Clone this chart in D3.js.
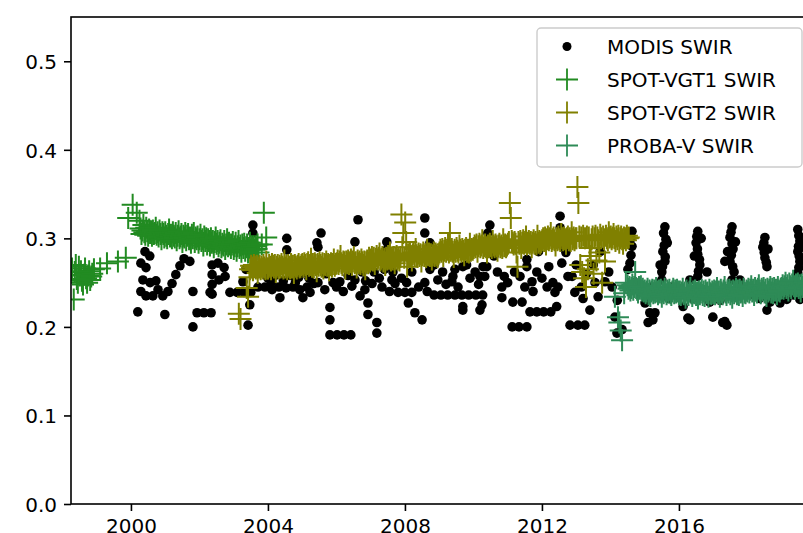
<!DOCTYPE html>
<html><head><meta charset="utf-8">
<script src="https://cdn.jsdelivr.net/npm/d3@7"></script>
<style>html,body{margin:0;padding:0;background:#fff;overflow:hidden}svg{display:block;font-family:"DejaVu Sans",sans-serif}</style>
</head><body><svg id="chart" width="803" height="533"></svg>
<script>
// ---------- data ----------
const xTicks = [2000, 2004, 2008, 2012, 2016];
const yTicks = [0, 0.1, 0.2, 0.3, 0.4, 0.5];
const seriesNames = ["MODIS SWIR", "SPOT-VGT1 SWIR", "SPOT-VGT2 SWIR", "PROBA-V SWIR"];
const seriesColors = ["#000000", "#228B22", "#808000", "#2E8B57"];

const modisPoints = [
[2000.20,0.217],[2000.29,0.272],[2000.41,0.285],[2000.55,0.280],[2000.44,0.267],[2000.35,0.253],[2000.29,0.240],[2000.44,0.235],[2000.64,0.235],[2000.79,0.242],[2000.73,0.252],[2000.56,0.250],[2000.99,0.214],
[2001.55,0.277],[2001.43,0.269],[2001.31,0.259],[2001.20,0.249],[2001.08,0.240],[2000.93,0.235],[2001.72,0.274],[2001.81,0.240],[2001.81,0.200],
[2001.93,0.216],[2002.13,0.216],[2002.34,0.216],
[2002.37,0.270],[2002.37,0.259],[2002.37,0.248],[2002.37,0.237],[2002.54,0.272],[2002.72,0.267],[2002.75,0.257],[2002.57,0.253],[2002.31,0.239],
[2002.89,0.239],[2003.10,0.239],[2003.30,0.239],[2003.50,0.239],
[2003.56,0.315],[2003.56,0.306],[2003.47,0.225],[2003.42,0.202],[2003.36,0.265],[2003.27,0.251],
[2004.55,0.300],[2004.55,0.287],[2004.35,0.233],
[2003.71,0.245],[2003.91,0.245],[2004.12,0.242],[2004.32,0.245],[2004.53,0.244],[2004.73,0.245],[2004.93,0.242],[2005.14,0.245],[2005.34,0.249],
[2005.31,0.265],[2005.55,0.306],[2005.43,0.295],[2005.46,0.290],[2003.80,0.262],[2004.20,0.258],[2004.90,0.256],[2005.02,0.233],[2005.23,0.239],
[2004.00,0.255],[2004.10,0.250],[2004.45,0.252],[2004.65,0.258],[2004.80,0.250],[2005.05,0.262],[2005.20,0.255],
[2005.46,0.250],[2005.66,0.242],[2005.81,0.222],[2005.81,0.208],
[2005.81,0.191],[2006.02,0.191],[2006.22,0.191],[2006.42,0.191],
[2005.70,0.260],[2005.90,0.250],[2006.00,0.245],[2006.20,0.240],[2006.45,0.246],
[2006.54,0.296],[2006.63,0.321],[2006.54,0.253],[2006.83,0.242],[2006.92,0.227],[2006.92,0.214],[2007.18,0.205],[2007.18,0.193],
[2006.75,0.262],[2006.85,0.252],[2007.10,0.262],[2007.25,0.255],[2007.40,0.265],[2007.55,0.240],[2007.65,0.262],[2008.05,0.250],[2008.10,0.227],
[2007.33,0.245],[2007.47,0.296],[2007.47,0.287],[2007.62,0.253],
[2007.80,0.239],[2008.00,0.239],[2008.20,0.239],[2008.29,0.216],[2008.50,0.208],
[2008.58,0.323],[2008.58,0.306],[2008.73,0.295],[2008.58,0.250],[2008.73,0.265],[2008.96,0.253],
[2006.10,0.251],[2006.34,0.258],[2006.69,0.235],[2007.04,0.249],[2007.71,0.249],[2007.90,0.255],[2008.20,0.262],
[2008.40,0.245],[2008.65,0.240],[2008.85,0.270],[2009.10,0.262],[2009.20,0.248],[2009.55,0.245],[2009.90,0.255],[2010.05,0.262],[2010.15,0.248],
[2008.85,0.236],[2009.05,0.236],[2009.25,0.236],[2009.46,0.236],[2009.66,0.236],[2009.86,0.236],[2010.07,0.236],[2010.27,0.236],
[2009.46,0.265],[2009.40,0.257],[2009.37,0.251],[2009.69,0.223],[2009.69,0.219],[2009.69,0.268],
[2010.25,0.225],[2010.19,0.219],[2010.28,0.268],[2010.19,0.257],[2010.33,0.257],[2010.39,0.268],[2010.48,0.315],[2010.42,0.306],
[2010.55,0.295],[2010.70,0.262],[2010.90,0.257],[2011.00,0.250],[2011.20,0.262],[2011.50,0.245],[2011.85,0.262],[2012.00,0.255],[2012.15,0.245],[2012.20,0.268],
[2010.83,0.245],[2010.83,0.233],[2011.15,0.228],[2011.42,0.228],
[2011.13,0.200],[2011.33,0.200],[2011.56,0.200],
[2011.36,0.257],[2011.56,0.276],[2011.56,0.268],[2011.71,0.251],[2011.74,0.240],
[2011.65,0.217],[2011.85,0.217],[2012.05,0.217],[2012.26,0.217],[2012.43,0.223],
[2012.32,0.250],[2012.47,0.245],[2012.38,0.239],[2012.58,0.272],[2012.76,0.257],[2012.53,0.325],[2012.53,0.312],
[2009.80,0.270],[2010.60,0.280],[2011.90,0.285],
[2012.70,0.284],[2012.88,0.257],[2012.96,0.239],[2012.82,0.202],[2013.05,0.202],[2013.25,0.202],
[2012.62,0.290],[2012.65,0.302],[2013.00,0.270],[2013.15,0.245],[2013.20,0.232],[2013.55,0.250],[2013.95,0.262],[2014.05,0.245],[2014.20,0.230],
[2013.40,0.219],[2013.64,0.234],[2013.84,0.251],[2013.30,0.260],[2013.50,0.270],[2013.70,0.285],
[2014.13,0.211],[2014.34,0.197],[2014.19,0.193],
[2014.63,0.308],[2014.60,0.300],[2014.63,0.291],[2014.60,0.281],[2014.57,0.272],[2014.51,0.265],[2014.72,0.250],
[2015.01,0.227],[2015.30,0.216],[2015.10,0.205],[2015.15,0.216],[2015.24,0.208],
[2015.59,0.313],[2015.55,0.306],[2015.62,0.299],[2015.57,0.292],[2015.53,0.285],[2015.60,0.279],[2015.59,0.274],[2015.52,0.268],[2015.50,0.262],[2015.50,0.253],[2015.66,0.295],[2015.45,0.270],
[2016.32,0.208],[2016.26,0.210],
[2016.55,0.308],[2016.52,0.302],[2016.50,0.295],[2016.54,0.288],[2016.55,0.282],[2016.60,0.276],[2016.61,0.270],[2016.57,0.263],[2016.55,0.257],[2016.82,0.262],[2016.32,0.253],[2016.65,0.300],[2016.45,0.280],
[2016.99,0.211],[2017.28,0.205],[2017.34,0.206],[2017.40,0.202],
[2017.55,0.313],[2017.52,0.307],[2017.49,0.301],[2017.55,0.294],[2017.58,0.288],[2017.53,0.281],[2017.49,0.274],[2017.34,0.274],[2017.57,0.268],[2017.61,0.262],[2017.55,0.253],[2017.78,0.253],[2017.65,0.296],[2017.42,0.285],
[2018.57,0.219],[2018.66,0.228],
[2018.51,0.301],[2018.48,0.295],[2018.45,0.290],[2018.49,0.284],[2018.51,0.278],[2018.55,0.273],[2018.57,0.268],[2018.66,0.242],[2018.60,0.288],
[2019.47,0.310],[2019.50,0.303],[2019.53,0.297],[2019.49,0.291],[2019.47,0.285],[2019.51,0.280],[2019.53,0.274],[2019.50,0.267],[2019.47,0.261],[2019.58,0.290],
[2019.15,0.231],[2019.53,0.231],[2018.95,0.227],[2016.12,0.223],
[2015.40,0.236],[2015.80,0.245],[2016.10,0.240],[2016.80,0.236],[2017.10,0.240],[2017.90,0.243],[2018.20,0.236],[2018.90,0.240],[2019.20,0.245],
[2014.85,0.240],[2015.20,0.245],[2015.70,0.232],[2016.40,0.232],[2016.90,0.228],[2017.20,0.230],[2017.70,0.235],[2018.05,0.240],[2018.35,0.232],[2018.80,0.232],[2019.05,0.238],[2019.35,0.236],[2019.70,0.250]
];

// SPOT-VGT1: sparse early samples, a dekadal (10-day) band, and late samples
const vgt1SparseTimes = [1998.28,1998.33,1998.36,1998.39,1998.42,1998.45,1998.48,1998.51,1998.54,1998.57,1998.60,1998.63,1998.66,1998.69,1998.72,1998.75,1998.78,1998.81,1998.84,1998.87,1998.92,1999.10,1999.30,1999.62,1999.85,1999.92,2000.05,2000.17,2000.25];
const vgt1SparseValues = [0.266,0.231,0.262,0.270,0.254,0.250,0.268,0.258,0.263,0.252,0.248,0.259,0.266,0.255,0.250,0.258,0.263,0.253,0.257,0.260,0.265,0.266,0.272,0.274,0.278,0.323,0.338,0.329,0.320];
const vgt1BandStart = 2000.28;
const vgt1BandValues = [
0.311,0.305,0.309,0.315,0.307,0.304,0.312,0.308,0.303,0.310,0.306,0.308,
0.303,0.309,0.305,0.306,0.312,0.304,0.307,0.302,0.309,0.305,0.299,0.307,
0.305,0.301,0.307,0.303,0.300,0.305,0.310,0.302,0.304,0.300,0.307,0.303,
0.301,0.306,0.298,0.303,0.308,0.300,0.302,0.305,0.296,0.303,0.301,0.306,
0.298,0.303,0.305,0.299,0.301,0.295,0.304,0.300,0.306,0.296,0.301,0.299,
0.302,0.295,0.299,0.304,0.297,0.299,0.292,0.302,0.297,0.300,0.293,0.299,
0.297,0.292,0.300,0.295,0.297,0.290,0.296,0.301,0.294,0.297,0.291,0.295,
0.298,0.290,0.294,0.292,0.297,0.288,0.293,0.299,0.291,0.295,0.293,0.289,
0.293,0.296,0.288,0.291,0.295,0.286,0.291,0.297,0.289,0.292,0.285,0.293,
0.289,0.294,0.286,0.290,0.293,0.284,0.289,0.295,0.287,0.291,0.288,0.291,
0.287,0.291,0.288,0.293,0.284];
const vgt1LateTimes = [2003.82,2003.88,2003.95];
const vgt1LateValues = [0.293,0.329,0.301];

// SPOT-VGT2
const vgt2SparseTimes = [2003.15,2003.20,2003.38,2003.42,2003.46];
const vgt2SparseValues = [0.215,0.209,0.244,0.234,0.256];
const vgt2BandStart = 2003.48;
const vgt2BandValues = [
0.265,0.269,0.267,0.264,0.270,0.268,0.266,0.269,0.261,0.267,0.269,0.265,0.268,0.266,0.270,0.267,0.265,0.274,0.266,
0.266,0.270,0.268,0.265,0.271,0.269,0.267,0.270,0.262,0.268,0.270,0.266,0.269,0.267,0.271,0.268,0.266,0.275,0.267,0.269,0.265,0.270,0.268,0.266,0.271,0.267,0.269,0.261,0.270,0.268,0.266,0.269,0.271,0.267,0.268,0.270,
0.271,0.268,0.272,0.270,0.265,0.271,0.273,0.269,0.270,0.277,0.268,0.271,0.267,0.272,0.270,0.263,0.271,0.269,0.273,0.270,0.268,0.272,0.266,0.271,0.270,0.274,0.269,0.271,0.264,0.270,0.272,0.268,0.271,0.276,0.269,0.271,
0.272,0.275,0.271,0.274,0.280,0.272,0.270,0.274,0.273,0.266,0.274,0.272,0.275,0.271,0.273,0.276,0.270,0.274,0.279,0.272,0.273,0.267,0.275,0.272,0.274,0.271,0.276,0.273,0.270,0.274,0.265,0.273,0.275,0.272,0.278,0.274,
0.276,0.279,0.275,0.278,0.271,0.277,0.280,0.276,0.278,0.283,0.275,0.277,0.279,0.274,0.277,0.270,0.278,0.276,0.280,0.277,0.284,0.275,0.278,0.276,0.279,0.272,0.277,0.280,0.276,0.278,0.275,0.279,0.327,0.290,0.306,0.278,
0.318,0.296,0.268,0.282,0.279,0.283,0.280,0.275,0.282,0.284,0.280,0.288,0.281,0.279,0.283,0.280,0.282,0.274,0.281,0.284,0.280,0.282,0.279,0.287,0.281,0.283,0.280,0.282,0.276,0.281,0.284,0.280,0.283,0.281,0.279,0.282,
0.284,0.287,0.285,0.288,0.280,0.286,0.289,0.285,0.287,0.293,0.284,0.306,0.286,0.288,0.285,0.279,0.287,0.285,0.289,0.286,0.284,0.292,0.287,0.285,0.288,0.286,0.281,0.287,0.289,0.285,0.287,0.284,0.294,0.286,0.288,0.287,
0.289,0.292,0.290,0.293,0.285,0.291,0.294,0.290,0.292,0.298,0.289,0.291,0.293,0.290,0.284,0.292,0.290,0.294,0.291,0.289,0.297,0.292,0.290,0.293,0.291,0.286,0.292,0.294,0.290,0.292,0.289,0.299,0.291,0.293,0.290,0.292,
0.294,0.296,0.340,0.323,0.297,0.295,0.293,0.296,0.294,0.284,0.268,0.296,0.294,0.297,0.289,0.295,0.298,0.294,0.296,0.302,0.293,0.295,0.297,0.294,0.296,0.290,0.295,0.298,0.294,0.296,0.293,0.303,0.295,0.297,0.294,0.296,
0.298,0.300,0.297,0.301,0.293,0.299,0.302,0.298,0.300,0.306,0.297,0.299,0.301,0.298,0.292,0.300,0.298,0.302,0.299,0.297,0.305,0.300,0.298,0.301,0.299,0.294,0.300,0.302,0.298,0.300,0.297,0.307,0.299,0.301,0.298,0.300,
0.300,0.358,0.340,0.302,0.270,0.301,0.262,0.303,0.255,0.300,0.245,0.302,0.265,0.301,0.289,0.280,0.299,0.302,0.260,0.300,0.303,0.275,0.301,0.298,0.284,0.304,0.300,0.250,0.302,0.299,0.274,0.303,0.300,0.298,0.307,0.301,
0.302,0.299,0.301,0.305,0.300,0.297,0.302,0.299,0.303,0.295,0.300,0.302,0.299,0.294,0.301,0.300,0.298,0.303,0.300,0.301];

// PROBA-V
const probaSparseTimes = [2014.13,2014.22,2014.26,2014.30,2014.34,2014.40,2014.45];
const probaSparseValues = [0.234,0.211,0.205,0.196,0.185,0.238,0.250];
const probaBandStart = 2014.50;
const probaBandValues = [
0.247,0.243,0.245,0.241,0.244,0.248,0.242,0.245,0.262,0.244,0.242,0.239,0.245,0.243,0.246,0.241,0.243,0.240,
0.241,0.238,0.240,0.243,0.237,0.241,0.235,0.240,0.242,0.238,0.241,0.239,0.244,0.240,0.237,0.241,0.239,0.242,0.234,0.240,0.238,0.243,0.240,0.237,0.241,0.239,0.242,0.238,0.236,0.240,0.243,0.238,0.241,0.239,0.242,0.240,
0.237,0.240,0.236,0.239,0.243,0.237,0.239,0.233,0.241,0.238,0.236,0.240,0.244,0.238,0.235,0.240,0.238,0.241,0.236,0.239,0.232,0.240,0.237,0.239,0.242,0.236,0.240,0.235,0.241,0.238,0.239,0.234,0.242,0.238,0.237,0.240,
0.238,0.241,0.237,0.240,0.244,0.238,0.240,0.234,0.242,0.239,0.237,0.241,0.245,0.239,0.236,0.241,0.239,0.242,0.237,0.240,0.233,0.241,0.238,0.240,0.243,0.237,0.241,0.236,0.242,0.239,0.240,0.235,0.243,0.239,0.238,0.241,
0.240,0.243,0.239,0.242,0.246,0.240,0.242,0.236,0.244,0.241,0.239,0.243,0.247,0.241,0.238,0.243,0.241,0.244,0.239,0.242,0.235,0.243,0.240,0.242,0.245,0.239,0.243,0.238,0.244,0.241,0.242,0.237,0.245,0.241,0.240,0.243,
0.244,0.247,0.243,0.246,0.250,0.244,0.247,0.241,0.249,0.246,0.244,0.248,0.252,0.246,0.243,0.248,0.246,0.249,0.244,0.247,0.240,0.248,0.245,0.247,0.250,0.244,0.248,0.243,0.249,0.246,0.247,0.242,0.250];

const DEKAD = 1 / 36; // 10-day compositing step
function assemble(sparseT, sparseV, bandStart, bandV, lateT, lateV) {
  const pts = sparseT.map((t, i) => [t, sparseV[i]]);
  bandV.forEach((v, i) => pts.push([bandStart + i * DEKAD, v]));
  (lateT || []).forEach((t, i) => pts.push([t, lateV[i]]));
  return pts;
}
const vgt1Points = assemble(vgt1SparseTimes, vgt1SparseValues, vgt1BandStart, vgt1BandValues, vgt1LateTimes, vgt1LateValues);
const vgt2Points = assemble(vgt2SparseTimes, vgt2SparseValues, vgt2BandStart, vgt2BandValues);
const probaPoints = assemble(probaSparseTimes, probaSparseValues, probaBandStart, probaBandValues);

// ---------- layout ----------
const W = 803, H = 533;
const plot = {left: 71, top: 17, right: 812, bottom: 504};
const x = d3.scaleLinear().domain([1998.25, 2019.885]).range([plot.left, plot.right]);
const y = d3.scaleLinear().domain([0, 0.55]).range([plot.bottom, plot.top]);

const svg = d3.select("#chart");
svg.append("rect").attr("width", W).attr("height", H).attr("fill", "#fff");
svg.append("defs").append("clipPath").attr("id", "clip")
  .append("rect").attr("x", plot.left).attr("y", plot.top)
  .attr("width", plot.right - plot.left).attr("height", plot.bottom - plot.top);

const g = svg.append("g").attr("clip-path", "url(#clip)");
const R = 4.8, PH = 11;
const plusPath = `M${-PH},0H${PH}M0,${-PH}V${PH}`;

g.append("g").selectAll("circle").data(modisPoints).join("circle")
  .attr("cx", d => x(d[0])).attr("cy", d => y(d[1])).attr("r", R).attr("fill", seriesColors[0]);

[[vgt1Points, seriesColors[1]], [vgt2Points, seriesColors[2]], [probaPoints, seriesColors[3]]].forEach(([pts, col]) => {
  g.append("g").selectAll("path").data(pts).join("path")
    .attr("d", plusPath)
    .attr("transform", d => `translate(${x(d[0])},${y(d[1])})`)
    .attr("fill", "none").attr("stroke", col).attr("stroke-width", 2);
});

// axes
const yAxis = d3.axisLeft(y).tickValues(yTicks).tickFormat(d3.format(".1f")).tickSize(7).tickPadding(7).tickSizeOuter(0);
const xAxis = d3.axisBottom(x).tickValues(xTicks).tickFormat(d3.format("d")).tickSize(7).tickPadding(7).tickSizeOuter(0);
const ya = svg.append("g").attr("transform", `translate(${plot.left},0)`).call(yAxis);
const xa = svg.append("g").attr("transform", `translate(0,${plot.bottom})`).call(xAxis);
[ya, xa].forEach(a => {
  a.attr("font-family", '"DejaVu Sans", sans-serif').attr("font-size", 20);
  a.select(".domain").remove();
  a.selectAll(".tick line").attr("stroke", "#000").attr("stroke-width", 1.6);
  a.selectAll(".tick text").attr("fill", "#000");
});
ya.selectAll(".tick text").attr("dy", "0.36em");
xa.selectAll(".tick text").attr("dy", "0.76em");

svg.append("rect").attr("x", plot.left).attr("y", plot.top)
  .attr("width", plot.right - plot.left).attr("height", plot.bottom - plot.top)
  .attr("fill", "none").attr("stroke", "#000").attr("stroke-width", 1.6);

// legend
const leg = svg.append("g");
leg.append("rect").attr("x", 537).attr("y", 28).attr("width", 265).attr("height", 139).attr("rx", 4)
  .attr("fill", "#fff").attr("fill-opacity", 0.8).attr("stroke", "#cccccc").attr("stroke-width", 1.4);
const rowY = [46.5, 79.5, 112.5, 145.5];
seriesNames.forEach((name, i) => {
  const row = leg.append("g").attr("transform", `translate(0,${rowY[i]})`);
  if (i === 0) row.append("circle").attr("cx", 567).attr("cy", 0).attr("r", 4.5).attr("fill", seriesColors[0]);
  else row.append("path").attr("d", plusPath).attr("transform", "translate(567,0)")
    .attr("fill", "none").attr("stroke", seriesColors[i]).attr("stroke-width", 1.8);
  row.append("text").attr("x", 607).attr("y", 0).attr("dy", "0.36em")
    .attr("font-size", 20).attr("fill", "#000").text(name);
});
</script></body></html>
